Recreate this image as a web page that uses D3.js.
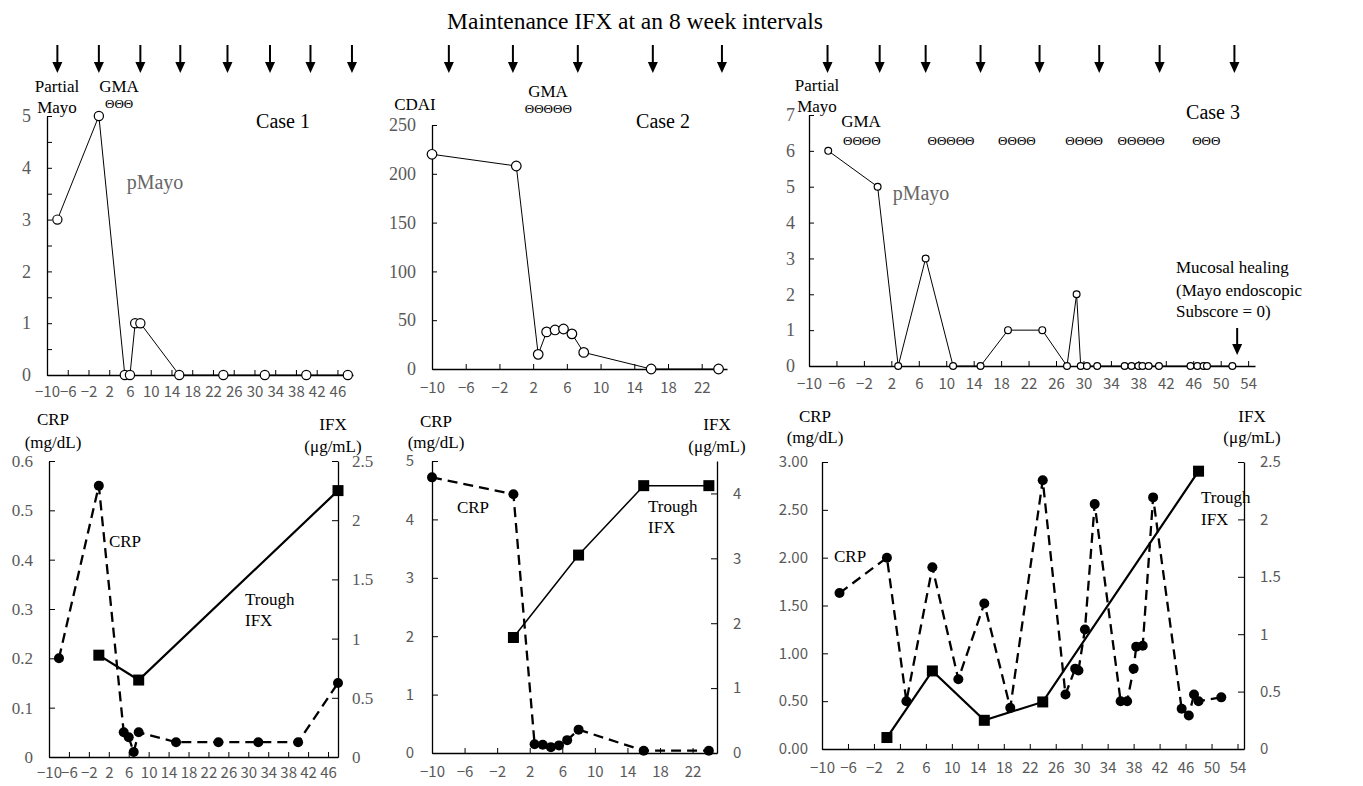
<!DOCTYPE html>
<html>
<head>
<meta charset="utf-8">
<script src="https://cdn.jsdelivr.net/npm/d3@7"></script>
<style>
  body { margin: 0; background: #fff; }
</style>
</head>
<body>
<div id="chart"></div>
<script>
// ---- data (weeks relative to the start of GMA) ----
const titleText = 'Maintenance IFX at an 8 week intervals';

// IFX infusion arrows
const arrows1 = [-8, 0, 8, 15.7, 24.8, 33, 40.8, 48.8];
const arrows2 = [-8, -0.4, 7.3, 16.2, 24.4];
const arrows3 = [-7.3, 0.3, 7, 15, 23.6, 32.3, 41.1, 52];

// Case 1: partial Mayo
const pmayo1Weeks = [-8, 0, 5, 6, 7, 8, 15.5, 24, 32, 40, 48];
const pmayo1 = [3, 5, 0, 0, 1, 1, 0, 0, 0, 0, 0];
// Case 2: CDAI
const cdai2Weeks = [-10, 0, 2.6, 3.6, 4.6, 5.6, 6.6, 8, 16, 24];
const cdai2 = [220, 208, 15, 38, 40, 41, 36, 17, 0, 0];
// Case 3: partial Mayo
const pmayo3Weeks = [-7.2, 0, 3, 7, 11, 15, 19, 24, 27.6, 29, 29.6, 30.5, 32, 36, 37, 38, 38.6, 39.5, 41, 45.6, 46.6, 47.5, 48, 51.7];
const pmayo3 = [6, 5, 0, 3, 0, 0, 1, 1, 0, 2, 0, 0, 0, 0, 0, 0, 0, 0, 0, 0, 0, 0, 0, 0];

// CRP (mg/dL) and trough IFX (ug/mL)
const crp1Weeks = [-8, 0, 5, 6, 7, 8, 15.5, 24, 32, 40, 48];
const crp1 = [0.2, 0.55, 0.05, 0.04, 0.01, 0.05, 0.03, 0.03, 0.03, 0.03, 0.15];
const ifx1Weeks = [0, 8, 48];
const ifx1 = [0.86, 0.65, 2.25];

const crp2Weeks = [-10, 0, 2.6, 3.6, 4.6, 5.6, 6.6, 8, 16, 24];
const crp2 = [4.72, 4.43, 0.15, 0.14, 0.1, 0.13, 0.22, 0.4, 0.04, 0.04];
const ifx2Weeks = [0, 8, 16, 24];
const ifx2 = [1.78, 3.05, 4.12, 4.12];

const crp3Weeks = [-7.3, 0, 3, 7, 11, 15, 19, 24, 27.5, 29, 29.5, 30.5, 32, 36, 37, 38, 38.4, 39.4, 41, 45.4, 46.5, 47.3, 48, 51.5];
const crp3 = [1.63, 2.0, 0.5, 1.9, 0.73, 1.52, 0.43, 2.81, 0.57, 0.84, 0.82, 1.25, 2.56, 0.5, 0.5, 0.84, 1.07, 1.08, 2.63, 0.42, 0.35, 0.57, 0.5, 0.54];
const ifx3Weeks = [0, 7, 15, 24, 48];
const ifx3 = [0.1, 0.68, 0.25, 0.41, 2.42];

// GMA sessions (group centre week, number of sessions)
const gma1 = [[3.9, 3]];
const gma2 = [[3.8, 5]];
const gma3 = [[-2.3, 4], [10.7, 5], [20.3, 4], [30.1, 4], [38.4, 5], [47.9, 3]];

// tick values
const pmayo1Ticks = [0, 0.5, 1, 1.5, 2, 2.5, 3, 3.5, 4, 4.5, 5];
const cdaiTicks = [0, 50, 100, 150, 200, 250];
const pmayo3Ticks = [0, 1, 2, 3, 4, 5, 6, 7];
const crp1Ticks = [0, 0.1, 0.2, 0.3, 0.4, 0.5, 0.6];
const ifx1Ticks = [0, 0.5, 1, 1.5, 2, 2.5];
const crp2Ticks = [0, 1, 2, 3, 4, 5];
const ifx2Ticks = [0, 1, 2, 3, 4];
const crp3Ticks = [0, 0.5, 1, 1.5, 2, 2.5, 3];
const ifx3Ticks = [0, 0.5, 1, 1.5, 2, 2.5];

// ---- drawing ----
const serif = '"Liberation Serif", "Times New Roman", serif';
const sans = '"Noto Sans CJK JP", "Liberation Sans", sans-serif';

const svg = d3.select('#chart')
  .append('svg')
  .attr('width', 1363)
  .attr('height', 786)
  .style('background', '#fff');

function label(x, y, str, opts = {}) {
  return svg.append('text')
    .attr('x', x)
    .attr('y', y)
    .attr('text-anchor', opts.anchor || 'middle')
    .style('font-family', opts.font || serif)
    .style('font-size', (opts.size || 17) + 'px')
    .style('fill', opts.color || '#000')
    .text(str);
}

function styleAxis(g, font, size) {
  g.select('.domain').attr('stroke', '#000').attr('stroke-width', 1.3);
  g.selectAll('.tick line').attr('stroke', '#000').attr('stroke-width', 1);
  g.selectAll('.tick text')
    .style('font-family', font)
    .style('font-size', size + 'px')
    .attr('fill', '#595959');
}

function xAxis(x, y0, pad) {
  svg.append('g')
    .attr('transform', `translate(0,${y0})`)
    .call(d3.axisBottom(x)
      .tickValues(d3.range(-10, x.domain()[1], 4))
      .tickSize(-5).tickSizeOuter(0).tickPadding(pad))
    .call(styleAxis, sans, 15);
}

function drawArrows(x, weeks) {
  weeks.forEach(w => {
    const cx = x(w);
    svg.append('line')
      .attr('x1', cx).attr('x2', cx).attr('y1', 45).attr('y2', 64)
      .attr('stroke', '#000').attr('stroke-width', 2);
    svg.append('path')
      .attr('d', `M${cx - 5},62L${cx + 5},62L${cx},73Z`)
      .attr('fill', '#000');
  });
}

function drawGma(x, groups, y) {
  groups.forEach(([w, n]) => {
    label(x(w), y, 'Θ'.repeat(n), { size: 13 });
  });
}

function drawTop(p) {
  const x = d3.scaleLinear().domain(p.xDomain).range([p.left, p.right]);
  const y = d3.scaleLinear().domain([0, p.yTicks[p.yTicks.length - 1]]).range([p.bottom, p.top]);

  xAxis(x, p.bottom, p.xPad);

  svg.append('g')
    .attr('transform', `translate(${p.left},0)`)
    .call(d3.axisLeft(y)
      .tickValues(p.yTicks)
      .tickFormat(d => Number.isInteger(d) ? d : '')
      .tickSize(-5).tickSizeOuter(0).tickPadding(p.yPad))
    .call(styleAxis, serif, 18);

  const line = d3.line()
    .x((d, i) => x(p.weeks[i]))
    .y(d => y(d));

  svg.append('path')
    .datum(p.values)
    .attr('d', line)
    .attr('fill', 'none')
    .attr('stroke', '#000')
    .attr('stroke-width', 1);

  svg.append('g')
    .selectAll('circle')
    .data(p.values)
    .enter().append('circle')
    .attr('cx', (d, i) => x(p.weeks[i]))
    .attr('cy', d => y(d))
    .attr('r', p.r)
    .attr('fill', '#fff')
    .attr('stroke', '#000')
    .attr('stroke-width', 1.2);

  drawArrows(x, p.arrows);
  return x;
}

function drawBottom(p) {
  const x = d3.scaleLinear().domain(p.xDomain).range([p.left, p.right]);
  const yL = d3.scaleLinear().domain([0, p.crpMax]).range([p.bottom, p.top]);
  const yR = d3.scaleLinear().domain([0, p.ifxMax]).range([p.bottom, p.top]);

  xAxis(x, p.bottom, p.xPad);

  svg.append('g')
    .attr('transform', `translate(${p.left},0)`)
    .call(d3.axisLeft(yL)
      .tickValues(p.crpTicks)
      .tickFormat(p.crpFormat)
      .tickSize(-6).tickSizeOuter(0).tickPadding(p.lPad))
    .call(styleAxis, p.font, p.font === serif ? 17 : 15);

  svg.append('g')
    .attr('transform', `translate(${p.right},0)`)
    .call(d3.axisRight(yR)
      .tickValues(p.ifxTicks)
      .tickFormat(d3.format('~g'))
      .tickSize(-6).tickSizeOuter(0).tickPadding(p.rPad))
    .call(styleAxis, p.font, p.font === serif ? 17 : 15);

  // trough IFX, solid line with squares
  const ifxLine = d3.line()
    .x((d, i) => x(p.ifxWeeks[i]))
    .y(d => yR(d));

  svg.append('path')
    .datum(p.ifx)
    .attr('d', ifxLine)
    .attr('fill', 'none')
    .attr('stroke', '#000')
    .attr('stroke-width', p.ifxWidth);

  svg.append('g')
    .selectAll('rect')
    .data(p.ifx)
    .enter().append('rect')
    .attr('x', (d, i) => x(p.ifxWeeks[i]) - 5.5)
    .attr('y', d => yR(d) - 5.5)
    .attr('width', 11)
    .attr('height', 11)
    .attr('fill', '#000');

  // CRP, dashed line with dots
  const crpLine = d3.line()
    .x((d, i) => x(p.crpWeeks[i]))
    .y(d => yL(d));

  svg.append('path')
    .datum(p.crp)
    .attr('d', crpLine)
    .attr('fill', 'none')
    .attr('stroke', '#000')
    .attr('stroke-width', 2.3)
    .attr('stroke-dasharray', '10,6');

  svg.append('g')
    .selectAll('circle')
    .data(p.crp)
    .enter().append('circle')
    .attr('cx', (d, i) => x(p.crpWeeks[i]))
    .attr('cy', d => yL(d))
    .attr('r', 5)
    .attr('fill', '#000');

  return x;
}

// title
label(635, 29, titleText, { size: 23.5 });

// ---- Case 1 ----
const x1 = drawTop({
  xDomain: [-10, 49], left: 47, right: 353, top: 116, bottom: 375,
  yTicks: pmayo1Ticks, weeks: pmayo1Weeks, values: pmayo1,
  r: 4.6, xPad: 11, yPad: 16, arrows: arrows1
});
label(57, 92, 'Partial', { size: 17 });
label(57, 113, 'Mayo', { size: 17 });
label(119, 92, 'GMA', { size: 17 });
drawGma(x1, gma1, 108);
label(283, 128, 'Case 1', { size: 20 });
label(155, 189, 'pMayo', { size: 20, color: '#666' });

drawBottom({
  xDomain: [-10, 48], left: 49, right: 338, top: 461, bottom: 757,
  crpMax: 0.6, ifxMax: 2.5, crpTicks: crp1Ticks, ifxTicks: ifx1Ticks,
  crpFormat: d => d === 0 ? '0' : d3.format('.1f')(d),
  crpWeeks: crp1Weeks, crp: crp1, ifxWeeks: ifx1Weeks, ifx: ifx1,
  ifxWidth: 2.2, font: serif, xPad: 10, lPad: 16, rPad: 14
});
label(53, 425, 'CRP');
label(53, 448, '(mg/dL)');
label(333, 430, 'IFX');
label(333, 452, '(μg/mL)');
label(125, 547, 'CRP');
label(245, 605, 'Trough', { anchor: 'start' });
label(245, 626, 'IFX', { anchor: 'start' });

// ---- Case 2 ----
const x2 = drawTop({
  xDomain: [-10, 25], left: 432, right: 727, top: 125, bottom: 369,
  yTicks: cdaiTicks, weeks: cdai2Weeks, values: cdai2,
  r: 4.8, xPad: 13, yPad: 16, arrows: arrows2
});
label(415, 110, 'CDAI');
label(548, 97, 'GMA');
drawGma(x2, gma2, 113);
label(663, 128, 'Case 2', { size: 20 });

drawBottom({
  xDomain: [-10, 25], left: 432, right: 717, top: 461, bottom: 753,
  crpMax: 5, ifxMax: 4.5, crpTicks: crp2Ticks, ifxTicks: ifx2Ticks,
  crpFormat: d3.format('d'),
  crpWeeks: crp2Weeks, crp: crp2, ifxWeeks: ifx2Weeks, ifx: ifx2,
  ifxWidth: 1.5, font: sans, xPad: 13, lPad: 18, rPad: 16
});
label(436, 427, 'CRP');
label(436, 448, '(mg/dL)');
label(717, 430, 'IFX');
label(717, 452, '(μg/mL)');
label(473, 513, 'CRP');
label(648, 512, 'Trough', { anchor: 'start' });
label(648, 533, 'IFX', { anchor: 'start' });

// ---- Case 3 ----
const x3 = drawTop({
  xDomain: [-10, 55], left: 809, right: 1255, top: 115, bottom: 366,
  yTicks: pmayo3Ticks, weeks: pmayo3Weeks, values: pmayo3,
  r: 3.4, xPad: 12, yPad: 14, arrows: arrows3
});
label(817, 91, 'Partial');
label(817, 112, 'Mayo');
label(861, 127, 'GMA');
drawGma(x3, gma3, 145);
label(1213, 119, 'Case 3', { size: 20 });
label(921, 200, 'pMayo', { size: 20, color: '#666' });
label(1176, 273, 'Mucosal healing', { anchor: 'start' });
label(1176, 296, '(Mayo endoscopic', { anchor: 'start' });
label(1176, 317, 'Subscore = 0)', { anchor: 'start' });
// arrow pointing at the endoscopy
svg.append('line')
  .attr('x1', x3(52.4)).attr('x2', x3(52.4)).attr('y1', 328).attr('y2', 346)
  .attr('stroke', '#000').attr('stroke-width', 2);
svg.append('path')
  .attr('d', `M${x3(52.4) - 5},344L${x3(52.4) + 5},344L${x3(52.4)},355Z`)
  .attr('fill', '#000');

drawBottom({
  xDomain: [-10, 55], left: 822, right: 1244, top: 462, bottom: 749,
  crpMax: 3, ifxMax: 2.5, crpTicks: crp3Ticks, ifxTicks: ifx3Ticks,
  crpFormat: d3.format('.2f'),
  crpWeeks: crp3Weeks, crp: crp3, ifxWeeks: ifx3Weeks, ifx: ifx3,
  ifxWidth: 2.2, font: sans, xPad: 13, lPad: 14, rPad: 16
});
label(815, 422, 'CRP');
label(815, 443, '(mg/dL)');
label(1252, 422, 'IFX');
label(1252, 443, '(μg/mL)');
label(834, 562, 'CRP', { anchor: 'start' });
label(1201, 503, 'Trough', { anchor: 'start' });
label(1201, 525, 'IFX', { anchor: 'start' });
</script>
</body>
</html>
